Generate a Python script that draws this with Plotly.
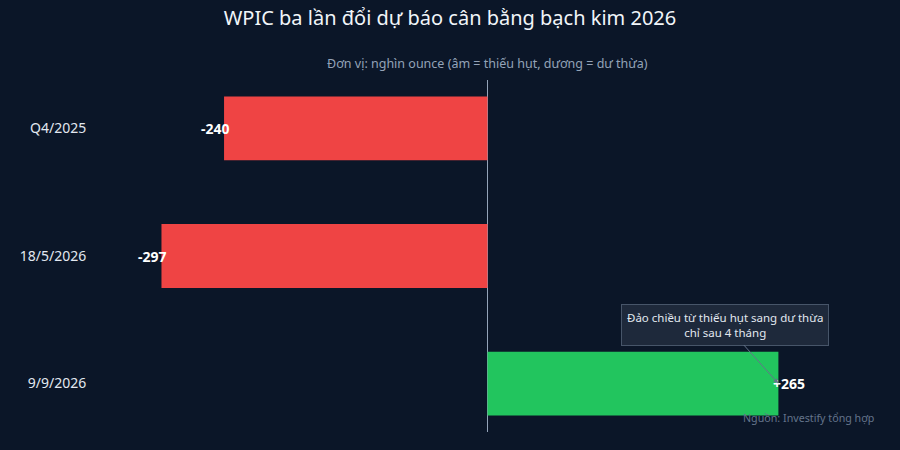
import plotly.graph_objects as go

categories = ["Q4/2025", "18/5/2026", "9/9/2026"]
values = [-240, -297, 265]
labels = ["-240", "-297", "+265"]
colors = ["#ef4444" if v < 0 else "#22c55e" for v in values]

title_text = "WPIC ba lần đổi dự báo cân bằng bạch kim 2026"
subtitle_text = "Đơn vị: nghìn ounce (âm = thiếu hụt, dương = dư thừa)"
note_text = "Đảo chiều từ thiếu hụt sang dư thừa<br>chỉ sau 4 tháng"
source_text = "Nguồn: Investify tổng hợp"

BG = "#0b1628"
FONT = "Noto Sans"

fig = go.Figure()
fig.add_trace(go.Bar(
    x=values, y=categories, orientation="h",
    marker=dict(color=colors, line=dict(width=0)),
    width=0.5, hoverinfo="skip", showlegend=False,
))

for c, v, t in zip(categories, values, labels):
    fig.add_annotation(
        x=v, y=c, text=f"<b>{t}</b>", showarrow=False,
        xanchor="right" if v < 0 else "left",
        xshift=8 if v < 0 else -7,
        font=dict(family=FONT, size=14, color="#ffffff"),
    )

fig.add_annotation(
    x=values[2], y=categories[2], text=note_text,
    showarrow=True, arrowhead=2, arrowsize=1, arrowwidth=1,
    arrowcolor="#64748b", ax=-53, ay=-59,
    bgcolor="#1e293b", bordercolor="#475569", borderwidth=1, borderpad=5,
    font=dict(family=FONT, size=11.5, color="#e2e8f0"),
)

fig.add_annotation(
    x=0.5, y=1.0, xref="paper", yref="paper", yshift=6,
    text=subtitle_text, showarrow=False, yanchor="bottom",
    font=dict(family=FONT, size=12.5, color="#94a3b8"),
)
fig.add_annotation(
    x=1.0, y=0, xref="paper", yref="paper", yshift=5, xshift=1,
    text=source_text, showarrow=False, xanchor="right", yanchor="bottom",
    font=dict(family=FONT, size=10.7, color="#64748b"),
)

fig.update_layout(
    width=900, height=450,
    paper_bgcolor=BG, plot_bgcolor=BG,
    margin=dict(l=100, r=25, t=80, b=18),
    title=dict(text=title_text, x=0.5, xanchor="center", y=0.96, yanchor="middle",
               font=dict(family=FONT, size=20, color="#f1f5f9")),
    font=dict(family=FONT, color="#e2e8f0"),
    xaxis=dict(range=[-353, 353], showgrid=False, showticklabels=False,
               zeroline=True, zerolinecolor="#94a3b8", zerolinewidth=1, ticks=""),
    yaxis=dict(range=[2.38, -0.38], showgrid=False, zeroline=False,
               tickfont=dict(family=FONT, size=14, color="#e2e8f0"),
               ticks="outside", ticklen=10, tickcolor=BG),
)

fig.write_html(
    "out.html",
    config={"displayModeBar": False},
    post_script="document.body.style.margin='0';document.body.style.background='" + BG + "';",
)
